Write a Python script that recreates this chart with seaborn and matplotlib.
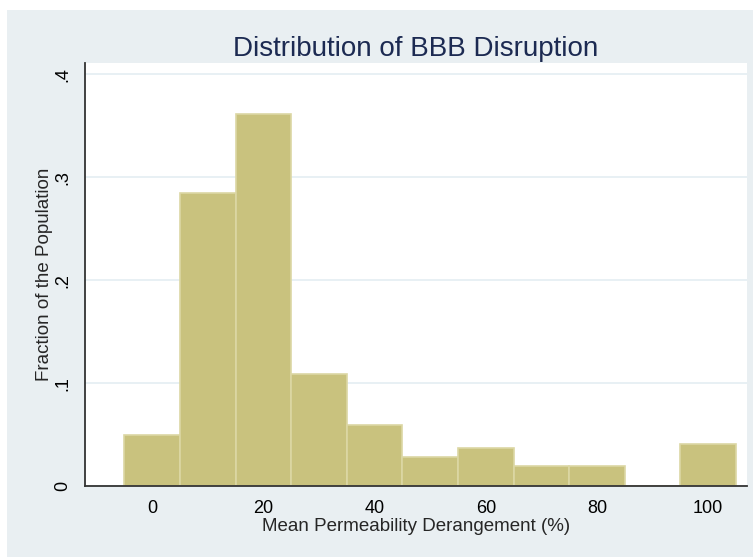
import numpy as np
import pandas as pd
import seaborn as sns
import matplotlib.pyplot as plt
from matplotlib.patches import Rectangle

# Histogram data (bin centres, fraction of population per bin)
bin_centers = [0, 10, 20, 30, 40, 50, 60, 70, 80, 90, 100]
fractions = [0.050, 0.285, 0.361, 0.109, 0.059, 0.028, 0.037, 0.019, 0.019, 0.0, 0.041]
bin_edges = [-5, 5, 15, 25, 35, 45, 55, 65, 75, 85, 95, 105]
x_ticks = [0, 20, 40, 60, 80, 100]
y_ticks = [0, 0.1, 0.2, 0.3, 0.4]
y_tick_labels = ['0', '.1', '.2', '.3', '.4']

df = pd.DataFrame({'derangement': bin_centers, 'fraction': fractions})

sns.set_style('white')
plt.rcParams['font.family'] = ['Liberation Sans', 'DejaVu Sans']

bg = '#e9eff2'
fig = plt.figure(figsize=(7.53, 5.57), dpi=100)
fig.patches.append(Rectangle((7 / 753, 0), 1, 1 - 10 / 557, transform=fig.transFigure,
                             facecolor=bg, edgecolor='none', zorder=-10))

ax = fig.add_axes([85 / 753, 1 - 486 / 557, (747 - 85) / 753, (486 - 63) / 557])
ax.set_facecolor('white')

sns.histplot(data=df, x='derangement', weights='fraction', bins=bin_edges,
             color='#c9c27e', edgecolor='#dcd7a4', linewidth=1.2, alpha=1, ax=ax)

ax.set_xlim(-12.1, 107.0)
ax.set_ylim(0, 0.411)
ax.set_xticks(x_ticks)
ax.set_yticks(y_ticks)
ax.set_yticklabels(y_tick_labels, rotation=90, va='center')
ax.yaxis.grid(True, color='#e4edf2', linewidth=1.2)
ax.set_axisbelow(True)

for side in ['top', 'right']:
    ax.spines[side].set_visible(False)
for side in ['left', 'bottom']:
    ax.spines[side].set_color('#333333')
    ax.spines[side].set_linewidth(1.3)

ax.tick_params(axis='both', direction='out', length=6, width=1.2, color='#333333',
               labelsize=13, labelcolor='black', pad=4)

ax.set_title('Distribution of BBB Disruption', fontsize=20, color='#1c2a52', pad=5)
ax.set_xlabel('Mean Permeability Derangement (%)', fontsize=13.5, labelpad=1)
ax.set_ylabel('Fraction of the Population', fontsize=13.5, labelpad=1)

fig.savefig('out.png', dpi=100, facecolor='white')
